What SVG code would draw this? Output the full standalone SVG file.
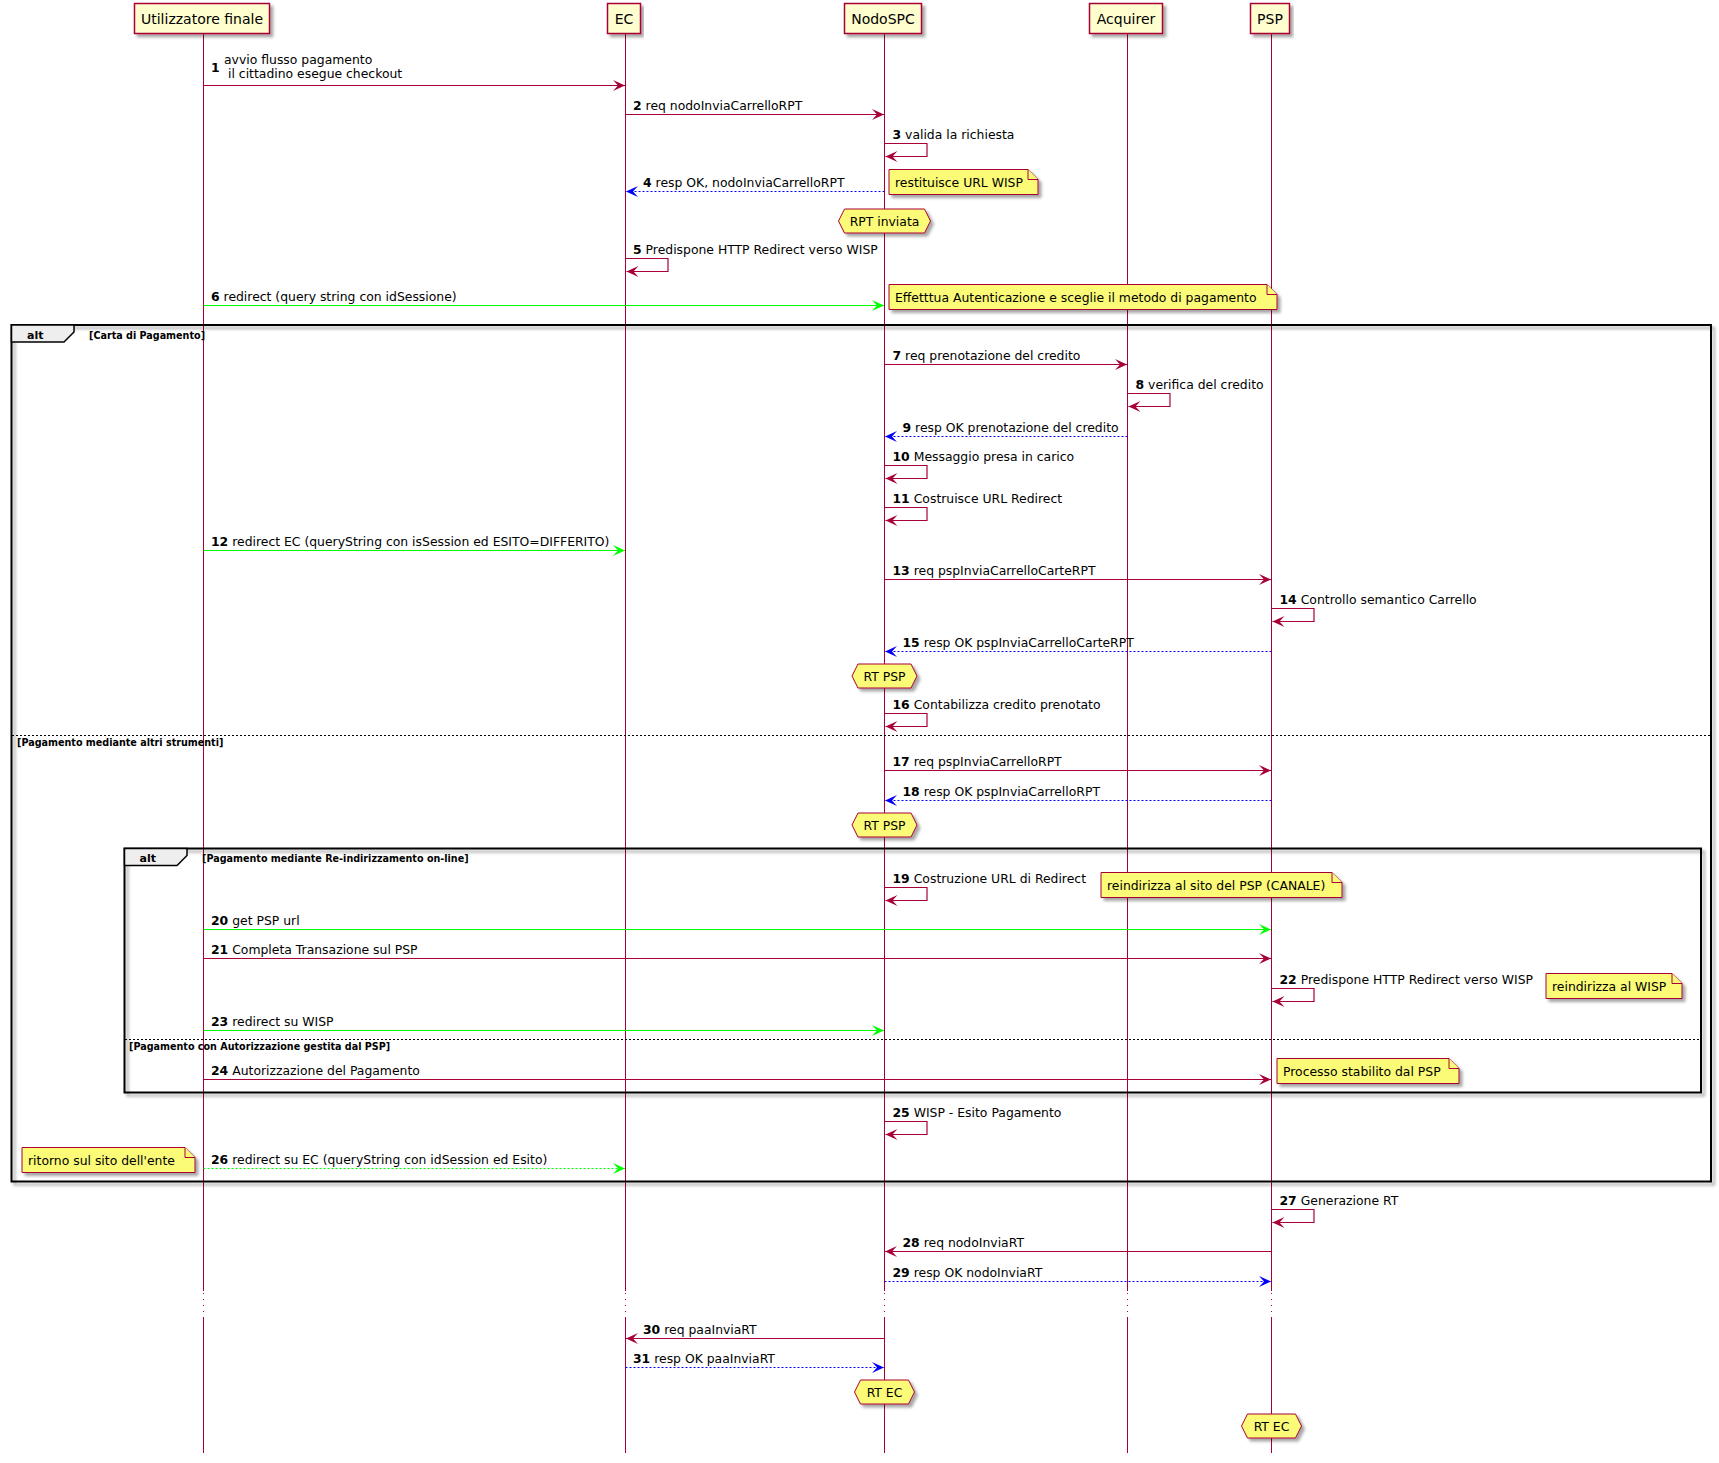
<svg xmlns="http://www.w3.org/2000/svg" width="1719" height="1463" viewBox="0 0 1719 1463">
<style>
text{font-family:"DejaVu Sans","Liberation Sans",sans-serif;font-size:12.4px;fill:#000}
.pt{font-size:14px;text-anchor:middle}
.b{font-weight:bold}
.part{fill:#FEFECE;stroke:#A80036;stroke-width:1.5}
.life{stroke:#A80036;stroke-width:1;fill:none}
.lifed{stroke:#A80036;stroke-width:1;fill:none;stroke-dasharray:1,5}
.m{stroke:#A80036;stroke-width:1.2;fill:none;marker-end:url(#ar)}
.mb{stroke:#0000FF;stroke-width:1.2;fill:none;stroke-dasharray:2,2;marker-end:url(#ab)}
.mg{stroke:#00FF00;stroke-width:1.2;fill:none;marker-end:url(#ag)}
.mgd{stroke:#00FF00;stroke-width:1.2;fill:none;stroke-dasharray:2,2;marker-end:url(#ag)}
.note{fill:#FBFB77;stroke:#A80036;stroke-width:1}
.hex{fill:#FBFB77;stroke:#A80036;stroke-width:1}
.ht{text-anchor:middle}
.frame{fill:none;stroke:#000;stroke-width:2}
.tab{fill:#EEEEEE;stroke:#000;stroke-width:1.5}
.sep{stroke:#000;stroke-width:1;stroke-dasharray:2,2}
.fl{font-size:11px;font-weight:bold}
.fc{font-size:9.6px;font-weight:bold}
</style>
<defs>
<filter id="sh" x="-5%" y="-10%" width="115%" height="150%">
<feDropShadow dx="3" dy="3" stdDeviation="1.8" flood-color="#000" flood-opacity="0.35"/>
</filter>
<marker id="ar" markerUnits="userSpaceOnUse" markerWidth="14" markerHeight="12" refX="12" refY="6" orient="auto"><path d="M0,0.5 L12,6 L0,11.5 L5,6 Z" fill="#A80036"/></marker>
<marker id="ab" markerUnits="userSpaceOnUse" markerWidth="14" markerHeight="12" refX="12" refY="6" orient="auto"><path d="M0,0.5 L12,6 L0,11.5 L5,6 Z" fill="#0000FF"/></marker>
<marker id="ag" markerUnits="userSpaceOnUse" markerWidth="14" markerHeight="12" refX="12" refY="6" orient="auto"><path d="M0,0.5 L12,6 L0,11.5 L5,6 Z" fill="#00FF00"/></marker>
</defs>
<rect width="1719" height="1463" fill="#FFFFFF"/>

<g id="lifelines">
<path class="life" d="M203.5,34V1291M625.5,34V1291M884.5,34V1291M1127.5,34V1291M1271.5,34V1291"/>
<path class="lifed" d="M203.5,1293V1316M625.5,1293V1316M884.5,1293V1316M1127.5,1293V1316M1271.5,1293V1316"/>
<path class="life" d="M203.5,1317V1453M625.5,1317V1453M884.5,1317V1453M1127.5,1317V1453M1271.5,1317V1453"/>
</g>

<g id="p-utilizzatore"><rect class="part" filter="url(#sh)" x="134.5" y="3.5" width="135" height="30"/><text class="pt" x="202" y="24">Utilizzatore finale</text></g>
<g id="p-ec"><rect class="part" filter="url(#sh)" x="607.5" y="3.5" width="33" height="30"/><text class="pt" x="624" y="24">EC</text></g>
<g id="p-nodospc"><rect class="part" filter="url(#sh)" x="844.5" y="3.5" width="77" height="30"/><text class="pt" x="883" y="24">NodoSPC</text></g>
<g id="p-acquirer"><rect class="part" filter="url(#sh)" x="1089.5" y="3.5" width="73" height="30"/><text class="pt" x="1126" y="24">Acquirer</text></g>
<g id="p-psp"><rect class="part" filter="url(#sh)" x="1250.5" y="3.5" width="39" height="30"/><text class="pt" x="1270" y="24">PSP</text></g>

<g id="frames">
<rect class="frame" filter="url(#sh)" x="11.5" y="325" width="1699.5" height="856.5"/>
<polygon class="tab" points="11.5,325 74,325 74,332 64,342 11.5,342"/>
<text class="fl" x="27" y="339">alt</text>
<text class="fc" x="89" y="339">[Carta di Pagamento]</text>
<line class="sep" x1="12" y1="735.5" x2="1711" y2="735.5"/>
<text class="fc" x="17" y="746">[Pagamento mediante altri strumenti]</text>
<rect class="frame" filter="url(#sh)" x="124.5" y="848.5" width="1576.5" height="244"/>
<polygon class="tab" points="124.5,848.5 187,848.5 187,855.5 177,865.5 124.5,865.5"/>
<text class="fl" x="139.5" y="862">alt</text>
<text class="fc" x="202" y="861.5">[Pagamento mediante Re-indirizzamento on-line]</text>
<line class="sep" x1="125" y1="1039.5" x2="1701" y2="1039.5"/>
<text class="fc" x="129" y="1050">[Pagamento con Autorizzazione gestita dal PSP]</text>
</g>

<g id="connectors">
<path class="m" d="M203.5,85.5H625"/>
<path class="m" d="M625.5,114.5H884"/>
<path class="m" d="M884.5,143.5H927V156.5H885.5"/>
<path class="mb" d="M884.5,191.5H626"/>
<path class="m" d="M625.5,258.5H668V271.5H626.5"/>
<path class="mg" d="M203.5,305.5H884"/>
<path class="m" d="M884.5,364.5H1127"/>
<path class="m" d="M1127.5,393.5H1170V406.5H1128.5"/>
<path class="mb" d="M1127.5,436.5H885"/>
<path class="m" d="M884.5,465.5H927V478.5H885.5"/>
<path class="m" d="M884.5,507.5H927V520.5H885.5"/>
<path class="mg" d="M203.5,550.5H625"/>
<path class="m" d="M884.5,579.5H1271"/>
<path class="m" d="M1271.5,608.5H1314V621.5H1272.5"/>
<path class="mb" d="M1271.5,651.5H885"/>
<path class="m" d="M884.5,713.5H927V726.5H885.5"/>
<path class="m" d="M884.5,770.5H1271"/>
<path class="mb" d="M1271.5,800.5H885"/>
<path class="m" d="M884.5,887.5H927V900.5H885.5"/>
<path class="mg" d="M203.5,929.5H1271"/>
<path class="m" d="M203.5,958.5H1271"/>
<path class="m" d="M1271.5,988.5H1314V1001.5H1272.5"/>
<path class="mg" d="M203.5,1030.5H884"/>
<path class="m" d="M203.5,1079.5H1271"/>
<path class="m" d="M884.5,1121.5H927V1134.5H885.5"/>
<path class="mgd" d="M203.5,1168.5H625"/>
<path class="m" d="M1271.5,1209.5H1314V1222.5H1272.5"/>
<path class="m" d="M1271.5,1251.5H885"/>
<path class="mb" d="M884.5,1281.5H1271"/>
<path class="m" d="M884.5,1338.5H626"/>
<path class="mb" d="M625.5,1367.5H884"/>
</g>

<g id="labels">
<text class="b" x="211" y="72">1</text>
<text x="224" y="64">avvio flusso pagamento</text>
<text x="228" y="78">il cittadino esegue checkout</text>
<text x="633" y="110"><tspan class="b">2</tspan> req nodoInviaCarrelloRPT</text>
<text x="892.5" y="139"><tspan class="b">3</tspan> valida la richiesta</text>
<text x="643" y="187"><tspan class="b">4</tspan> resp OK, nodoInviaCarrelloRPT</text>
<text x="633" y="254"><tspan class="b">5</tspan> Predispone HTTP Redirect verso WISP</text>
<text x="211" y="301"><tspan class="b">6</tspan> redirect (query string con idSessione)</text>
<text x="892.5" y="360"><tspan class="b">7</tspan> req prenotazione del credito</text>
<text x="1135.5" y="389"><tspan class="b">8</tspan> verifica del credito</text>
<text x="902.5" y="432"><tspan class="b">9</tspan> resp OK prenotazione del credito</text>
<text x="892.5" y="461"><tspan class="b">10</tspan> Messaggio presa in carico</text>
<text x="892.5" y="503"><tspan class="b">11</tspan> Costruisce URL Redirect</text>
<text x="211" y="546"><tspan class="b">12</tspan> redirect EC (queryString con isSession ed ESITO=DIFFERITO)</text>
<text x="892.5" y="575"><tspan class="b">13</tspan> req pspInviaCarrelloCarteRPT</text>
<text x="1279.5" y="604"><tspan class="b">14</tspan> Controllo semantico Carrello</text>
<text x="902.5" y="647"><tspan class="b">15</tspan> resp OK pspInviaCarrelloCarteRPT</text>
<text x="892.5" y="709"><tspan class="b">16</tspan> Contabilizza credito prenotato</text>
<text x="892.5" y="766"><tspan class="b">17</tspan> req pspInviaCarrelloRPT</text>
<text x="902.5" y="796"><tspan class="b">18</tspan> resp OK pspInviaCarrelloRPT</text>
<text x="892.5" y="883"><tspan class="b">19</tspan> Costruzione URL di Redirect</text>
<text x="211" y="925"><tspan class="b">20</tspan> get PSP url</text>
<text x="211" y="954"><tspan class="b">21</tspan> Completa Transazione sul PSP</text>
<text x="1279.5" y="984"><tspan class="b">22</tspan> Predispone HTTP Redirect verso WISP</text>
<text x="211" y="1026"><tspan class="b">23</tspan> redirect su WISP</text>
<text x="211" y="1075"><tspan class="b">24</tspan> Autorizzazione del Pagamento</text>
<text x="892.5" y="1117"><tspan class="b">25</tspan> WISP - Esito Pagamento</text>
<text x="211" y="1164"><tspan class="b">26</tspan> redirect su EC (queryString con idSession ed Esito)</text>
<text x="1279.5" y="1205"><tspan class="b">27</tspan> Generazione RT</text>
<text x="902.5" y="1247"><tspan class="b">28</tspan> req nodoInviaRT</text>
<text x="892.5" y="1277"><tspan class="b">29</tspan> resp OK nodoInviaRT</text>
<text x="643" y="1334"><tspan class="b">30</tspan> req paaInviaRT</text>
<text x="633" y="1363"><tspan class="b">31</tspan> resp OK paaInviaRT</text>
</g>

<g id="note-url-wisp"><path class="note" filter="url(#sh)" d="M889,169.5H1028L1038,179.5V194.5H889Z"/><path class="note" d="M1028,169.5V179.5H1038"/><text x="895" y="186.5">restituisce URL WISP</text></g>
<g id="note-autenticazione"><path class="note" filter="url(#sh)" d="M889,284.5H1267L1277,294.5V309.5H889Z"/><path class="note" d="M1267,284.5V294.5H1277"/><text x="895" y="301.5">Effetttua Autenticazione e sceglie il metodo di pagamento</text></g>
<g id="note-canale"><path class="note" filter="url(#sh)" d="M1101,872.5H1332L1342,882.5V897.5H1101Z"/><path class="note" d="M1332,872.5V882.5H1342"/><text x="1107" y="889.5">reindirizza al sito del PSP (CANALE)</text></g>
<g id="note-wisp"><path class="note" filter="url(#sh)" d="M1546,973.5H1672L1682,983.5V998.5H1546Z"/><path class="note" d="M1672,973.5V983.5H1682"/><text x="1552" y="990.5">reindirizza al WISP</text></g>
<g id="note-processo"><path class="note" filter="url(#sh)" d="M1277,1058.5H1449L1459,1068.5V1083.5H1277Z"/><path class="note" d="M1449,1058.5V1068.5H1459"/><text x="1283" y="1075.5">Processo stabilito dal PSP</text></g>
<g id="note-ritorno"><path class="note" filter="url(#sh)" d="M22,1147.5H185L195,1157.5V1172.5H22Z"/><path class="note" d="M185,1147.5V1157.5H195"/><text x="28" y="1164.5">ritorno sul sito dell'ente</text></g>

<g id="hex-rpt-inviata"><polygon class="hex" filter="url(#sh)" points="838.5,221 844.5,209 924.5,209 930.5,221 924.5,233 844.5,233"/><text class="ht" x="884.5" y="225.5">RPT inviata</text></g>
<g id="hex-rt-psp-1"><polygon class="hex" filter="url(#sh)" points="852,676 858,664 911,664 917,676 911,688 858,688"/><text class="ht" x="884.5" y="680.5">RT PSP</text></g>
<g id="hex-rt-psp-2"><polygon class="hex" filter="url(#sh)" points="852,825 858,813 911,813 917,825 911,837 858,837"/><text class="ht" x="884.5" y="829.5">RT PSP</text></g>
<g id="hex-rt-ec-1"><polygon class="hex" filter="url(#sh)" points="854.5,1392 860.5,1380 908.5,1380 914.5,1392 908.5,1404 860.5,1404"/><text class="ht" x="884.5" y="1396.5">RT EC</text></g>
<g id="hex-rt-ec-2"><polygon class="hex" filter="url(#sh)" points="1241.5,1426 1247.5,1414 1295.5,1414 1301.5,1426 1295.5,1438 1247.5,1438"/><text class="ht" x="1271.5" y="1430.5">RT EC</text></g>
</svg>
